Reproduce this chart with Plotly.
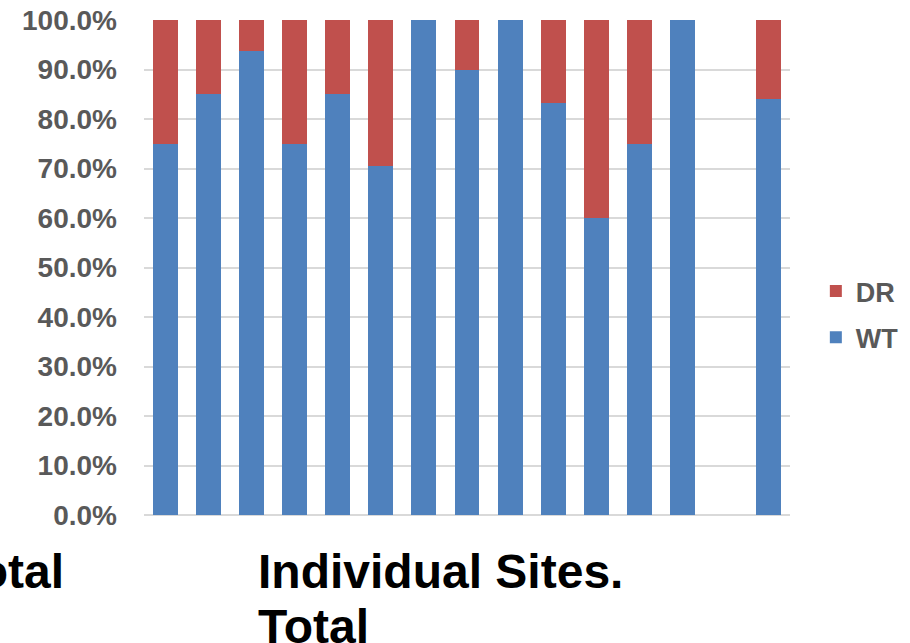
import plotly.graph_objects as go

# Categories: 13 individual sites, a blank spacer slot, then the overall total
categories = [str(i) for i in range(1, 14)] + [" ", "Total"]
wt_pct = [75.0, 85.0, 93.8, 75.0, 85.0, 70.6, 100.0, 90.0, 100.0, 83.3, 60.0, 75.0, 100.0, None, 84.0]
dr_pct = [None if v is None else round(100.0 - v, 1) for v in wt_pct]

y_ticks = [i / 10 for i in range(0, 11)]

WT_COLOR = "#4F81BD"
DR_COLOR = "#C0504D"

fig = go.Figure()
fig.add_trace(go.Bar(
    x=categories, y=[None if v is None else v / 100 for v in wt_pct],
    name="WT", marker=dict(color=WT_COLOR, line=dict(width=0)),
    legendgroup="wt", legendrank=2,
))
fig.add_trace(go.Bar(
    x=categories, y=[None if v is None else v / 100 for v in dr_pct],
    name="DR", marker=dict(color=DR_COLOR, line=dict(width=0)),
    legendgroup="dr", legendrank=1,
))

fig.update_layout(
    width=910, height=643,
    margin=dict(l=144, r=120, t=20, b=128, autoexpand=False),
    paper_bgcolor="white", plot_bgcolor="white",
    barmode="stack", bargap=0.42,
    font=dict(family="Liberation Sans, Arial, sans-serif", color="#595959"),
    legend=dict(
        x=1.04, y=0.405, xanchor="left", yanchor="middle",
        traceorder="grouped", tracegroupgap=8,
        font=dict(size=27, color="#595959", family="Liberation Sans, Arial, sans-serif", weight="bold"),
        itemwidth=30,
    ),
    xaxis=dict(
        showticklabels=False, showgrid=False, zeroline=False,
        showline=False, ticks="", automargin=False,
    ),
    yaxis=dict(
        range=[0, 1.0], tickvals=y_ticks, tickformat=".1%",
        showgrid=True, gridcolor="#D9D9D9", gridwidth=1.5,
        zeroline=True, zerolinecolor="#D9D9D9", zerolinewidth=1.5,
        showline=False, ticks="", ticklabelstandoff=26, automargin=False,
        tickfont=dict(size=28, color="#595959", weight="bold"),
    ),
)

label_font = dict(size=48, color="black", family="Liberation Sans, Arial, sans-serif", weight="bold")
fig.add_annotation(text="Total", xref="paper", yref="paper", x=(66 - 144) / 646,
                   y=(515 - 571) / 495, xanchor="right", yanchor="middle",
                   showarrow=False, font=label_font)
fig.add_annotation(text="Individual Sites.", xref="paper", yref="paper", x=(256 - 144) / 646,
                   y=(515 - 571) / 495, xanchor="left", yanchor="middle",
                   showarrow=False, font=label_font)
fig.add_annotation(text="Total", xref="paper", yref="paper", x=(256 - 144) / 646,
                   y=(515 - 626) / 495, xanchor="left", yanchor="middle",
                   showarrow=False, font=label_font)

fig.write_html("out.html")
